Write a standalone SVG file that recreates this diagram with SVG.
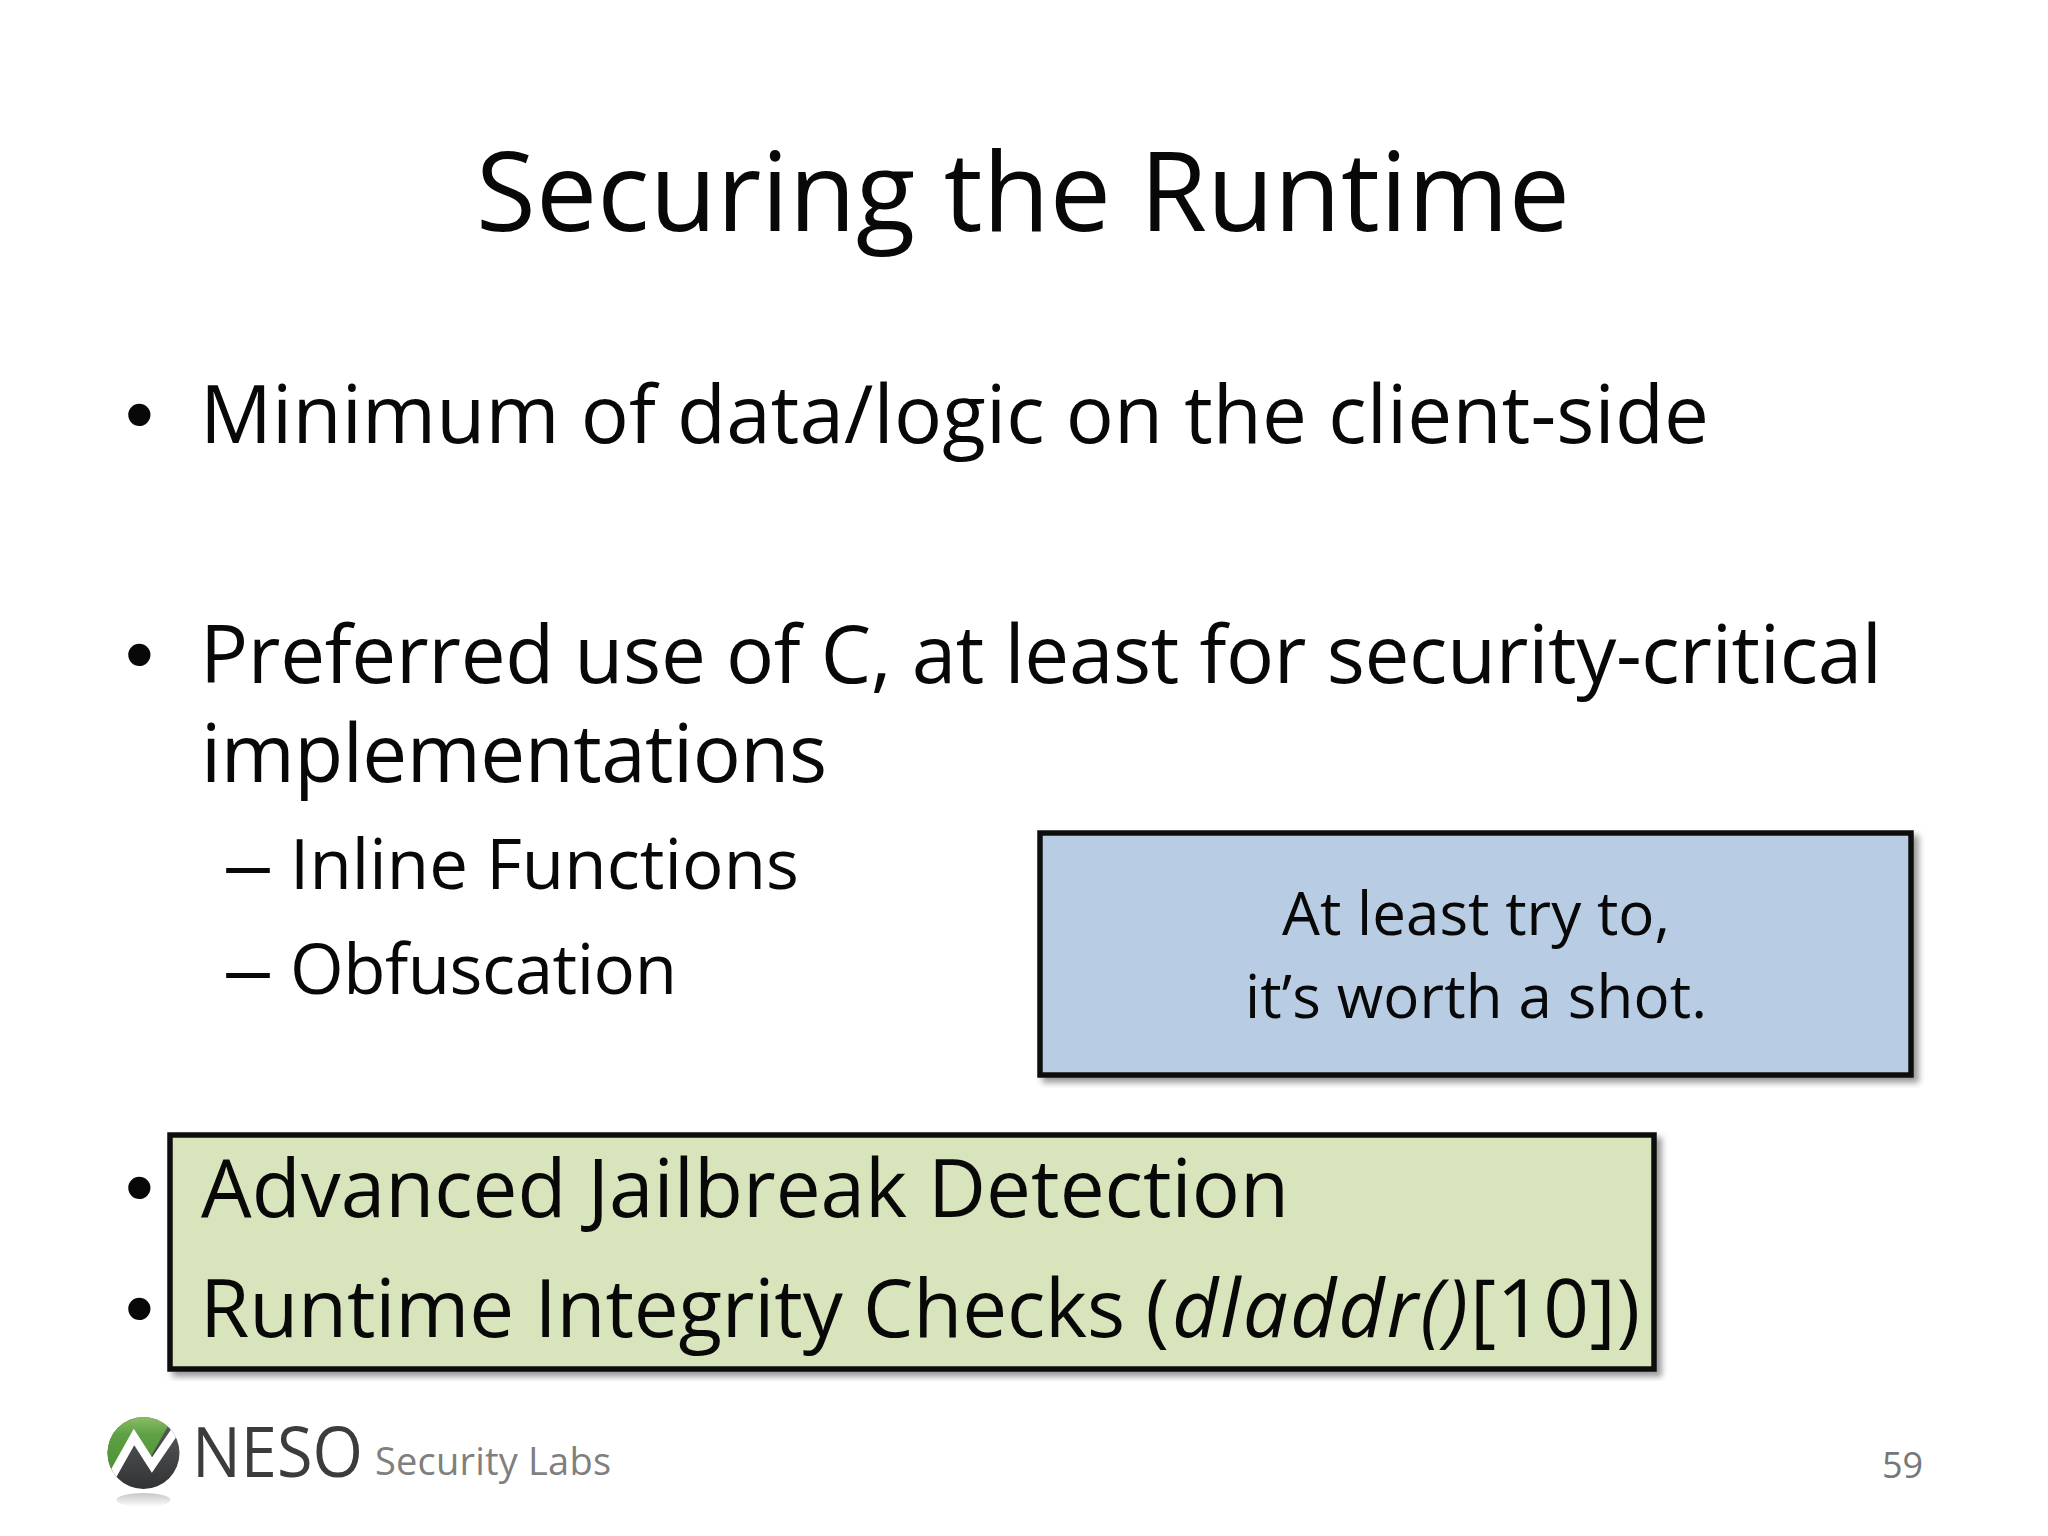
<svg xmlns="http://www.w3.org/2000/svg" width="2048" height="1536" viewBox="0 0 2048 1536">
<defs>
<style>
text{font-family:"Open Sans","Noto Sans","Liberation Sans",sans-serif;fill:#080808}
.b{font-size:80px}
.s{font-size:69px}
.c{font-size:60px}
.d{font-size:82px;font-family:"Liberation Sans",Arial,sans-serif}
.box{stroke:#111;stroke-width:5.5;filter:url(#sh)}
</style>
<filter id="sh" x="-5%" y="-5%" width="110%" height="110%"><feDropShadow dx="5" dy="5" stdDeviation="3" flood-color="#000" flood-opacity="0.4"/></filter>
<linearGradient id="gr" x1="0" y1="0" x2="0" y2="1"><stop offset="0" stop-color="#8fbf6a"/><stop offset="0.25" stop-color="#5fa044"/><stop offset="1" stop-color="#3f8a2c"/></linearGradient>
<linearGradient id="dk" x1="0" y1="0" x2="0" y2="1"><stop offset="0" stop-color="#5e6164"/><stop offset="1" stop-color="#2c2c2e"/></linearGradient>
<linearGradient id="rf" x1="0" y1="0" x2="0" y2="1"><stop offset="0" stop-color="#999"/><stop offset="1" stop-color="#fff"/></linearGradient>
<clipPath id="cc"><circle cx="143.5" cy="1453" r="36"/></clipPath>
</defs>
<rect width="2048" height="1536" fill="#fff"/>
<text id="title" x="476" y="231" font-size="109" textLength="1094">Securing the Runtime</text>
<g id="blue-box"><rect class="box" x="1040" y="833" width="871" height="242" fill="#b8cce4"/>
<text class="c" x="1282" y="935" textLength="388">At least try to,</text>
<text class="c" x="1245" y="1018" textLength="462">it’s worth a shot.</text></g>
<g id="green-box"><rect class="box" x="170" y="1135" width="1484" height="234" fill="#d8e4bc"/></g>
<text class="d" x="125" y="442">•</text>
<text class="b" x="200" y="443" textLength="1509">Minimum of data/logic on the client-side</text>
<text class="d" x="125" y="682">•</text>
<text class="b" x="200" y="683" textLength="1682">Preferred use of C, at least for security-critical</text>
<text class="b" x="201" y="782" textLength="626">implementations</text>
<text class="s" x="222" y="889" textLength="52" lengthAdjust="spacingAndGlyphs">–</text>
<text class="s" x="290" y="889" textLength="509">Inline Functions</text>
<text class="s" x="222" y="994" textLength="52" lengthAdjust="spacingAndGlyphs">–</text>
<text class="s" x="290" y="994" textLength="387">Obfuscation</text>
<text class="d" x="125" y="1215">•</text>
<text class="b" x="201" y="1217" textLength="1088">Advanced Jailbreak Detection</text>
<text class="d" x="125" y="1336">•</text>
<text class="b" x="200" y="1337" textLength="969">Runtime Integrity Checks (</text>
<text class="b" x="1172" y="1337" font-style="italic" textLength="296">dladdr()</text>
<text class="b" x="1470" y="1337" textLength="170">[10])</text>
<g id="logo">
<ellipse cx="143.5" cy="1500" rx="27" ry="7" fill="url(#rf)" opacity="0.55"/>
<g clip-path="url(#cc)">
<rect x="100" y="1410" width="90" height="90" fill="url(#dk)"/>
<path d="M100 1415H190L168 1426L150 1458L133 1432L107 1482L100 1493Z" fill="url(#gr)"/>
<path d="M111 1478L134 1437L152 1465L178 1427" fill="none" stroke="#fff" stroke-width="8.5"/>
</g>
<text x="192" y="1477" font-size="70" textLength="171" lengthAdjust="spacingAndGlyphs" style="fill:#3c3c3e">NESO</text>
<text x="375" y="1475" font-size="38" textLength="236" style="fill:#7f7f7f">Security Labs</text></g>
<text id="page" x="1882" y="1478" font-size="36" style="fill:#777">59</text>
</svg>
